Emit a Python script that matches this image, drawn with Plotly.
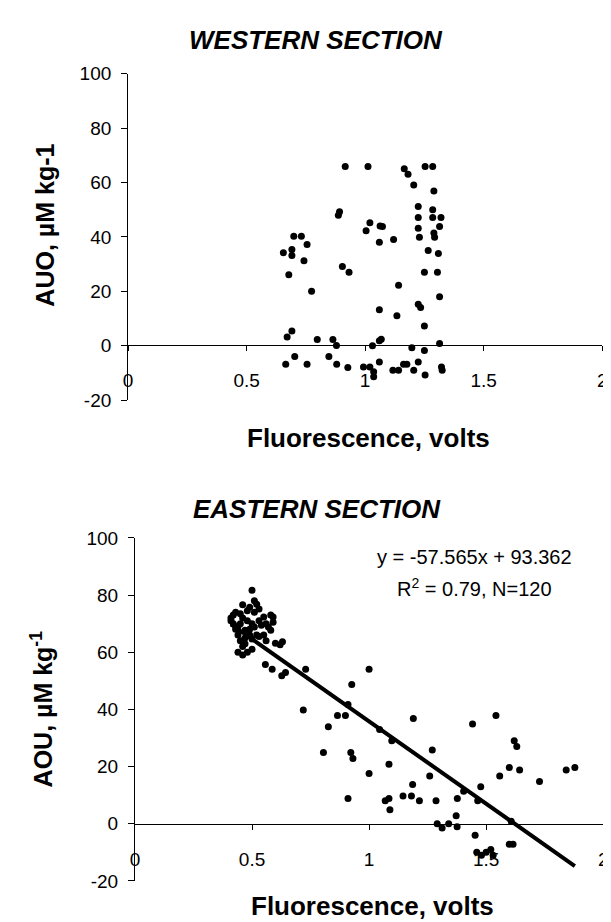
import plotly.graph_objects as go

# ---------------- data ----------------
west_x = [0.655, 0.691, 0.691, 0.699, 0.731, 0.755, 0.678, 0.742, 0.774, 0.671,
          0.691, 0.798, 0.665, 0.703, 0.755, 0.847, 0.864, 0.879, 0.880, 0.927,
          0.904, 0.932, 0.887, 0.892, 0.916, 1.012, 1.165, 1.181, 1.253, 1.285,
          1.205, 1.290, 1.224, 1.285, 1.004, 1.020, 1.063, 1.073, 1.060, 1.120,
          1.141, 1.060, 1.134, 1.031, 1.060, 1.068, 0.993, 1.020, 1.036, 1.036,
          1.060, 1.117, 1.141, 1.162, 1.176, 1.205, 1.224, 1.197, 1.250, 1.253,
          1.224, 1.224, 1.229, 1.224, 1.234, 1.250, 1.250, 1.266, 1.285, 1.290,
          1.293, 1.320, 1.314, 1.309, 1.305, 1.314, 1.314, 1.322, 1.325]
west_y = [34.2, 35.4, 33.2, 40.2, 40.2, 37.2, 26.1, 31.2, 20.0, 3.2,
          5.4, 2.3, -6.8, -4.0, -6.8, -4.0, 2.3, 0.1, -6.8, -8.0,
          29.1, 27.0, 48.0, 49.2, 65.9, 65.9, 65.1, 63.0, 65.9, 65.9,
          59.1, 56.9, 51.2, 50.0, 42.3, 45.2, 44.0, 43.8, 38.0, 39.0,
          22.2, 13.2, 11.0, 0.0, 1.8, 2.4, -7.8, -7.8, -9.6, -11.4,
          -6.0, -9.0, -9.0, -6.8, -6.8, -9.0, -6.0, -0.8, -1.8, -10.8,
          47.1, 43.2, 39.9, 15.2, 14.0, 7.2, 27.0, 35.0, 47.1, 41.4,
          39.9, 47.1, 43.8, 33.9, 27.0, 18.0, 0.8, -7.8, -9.0]

east_x = [0.41, 0.42, 0.41, 0.42, 0.43, 0.44, 0.44, 0.45, 0.46, 0.44,
          0.46, 0.48, 0.50, 0.47, 0.46, 0.49, 0.52, 0.53, 0.48, 0.51,
          0.55, 0.59, 0.59, 0.47, 0.51, 0.54, 0.57, 0.58, 0.49, 0.50,
          0.52, 0.53, 0.55, 0.45, 0.48, 0.50, 0.53, 0.46, 0.49, 0.56,
          0.60, 0.62, 0.63, 0.50, 0.43, 0.45, 0.51, 0.56, 0.58, 0.47,
          0.557, 0.586, 0.627, 0.643, 0.729, 1.000,
          0.719, 0.826, 0.805, 0.865, 0.899, 0.910, 0.926, 0.922, 0.931, 0.910,
          1.000, 1.045, 1.097, 1.085, 1.069, 1.085, 1.089, 1.145, 1.181, 1.186,
          1.189, 1.215, 1.259, 1.270, 1.286, 1.291, 1.312, 1.340, 1.372, 1.376,
          1.377, 1.404, 1.442, 1.453, 1.477, 1.464, 1.46, 1.48, 1.50, 1.52,
          1.53, 1.542, 1.558, 1.599, 1.607, 1.599, 1.615, 1.620, 1.631, 1.643,
          1.728, 1.842, 1.879]
east_y = [72.0, 73.0, 71.0, 70.0, 68.0, 69.0, 66.0, 64.0, 62.0, 60.0,
          59.0, 60.0, 61.0, 65.0, 76.6, 75.7, 76.8, 75.1, 74.5, 74.0,
          72.3, 72.3, 70.5, 67.7, 68.8, 69.4, 68.8, 67.7, 66.0, 64.6,
          66.0, 65.5, 66.0, 70.0, 71.0, 70.0, 71.0, 72.0, 68.0, 64.0,
          63.1, 62.6, 63.7, 81.7, 74.0, 73.5, 78.0, 70.0, 73.0, 63.0,
          55.7, 54.0, 51.8, 52.9, 54.0, 54.0,
          39.8, 33.9, 24.9, 37.9, 37.9, 41.7, 48.7, 24.9, 22.8, 8.8,
          17.6, 33.0, 29.0, 20.8, 8.0, 8.8, 4.9, 9.7, 9.7, 13.7,
          36.8, 8.0, 16.7, 25.8, 8.0, 0.0, -1.5, 0.0, 2.8, -1.1,
          8.8, 11.4, 34.9, -4.0, 12.9, 8.0, -10.0, -11.0, -10.0, -9.0,
          -11.0, 37.9, 16.7, 19.7, 0.9, -7.2, -7.2, 29.0, 27.0, 18.8,
          14.8, 18.8, 19.7]

fit_slope = -57.565
fit_intercept = 93.362

x_tick_vals = [0, 0.5, 1, 1.5, 2]
x_tick_text = ["0", "0.5", "1", "1.5", "2"]
y_tick_vals = [-20, 0, 20, 40, 60, 80, 100]
y_tick_text = ["-20", "0", "20", "40", "60", "80", "100"]

title_west = "WESTERN SECTION"
title_east = "EASTERN SECTION"
x_title = "Fluorescence, volts"
y_title_west = "AUO, µM kg-1"
y_title_east = "AOU, µM kg<sup>-1</sup>"
eq_text = "y = -57.565x + 93.362"
r2_text = "R<sup>2</sup> = 0.79, N=120"

# ---------------- figure ----------------
W, H = 611, 922
FONT = "Arial, Liberation Sans, sans-serif"

def px(X):
    return X / W

def py(Y):
    return 1 - Y / H

fig = go.Figure()
fig.add_trace(go.Scatter(x=west_x, y=west_y, mode="markers",
                         marker=dict(color="black", size=7),
                         xaxis="x", yaxis="y", showlegend=False))
fig.add_trace(go.Scatter(x=east_x, y=east_y, mode="markers",
                         marker=dict(color="black", size=7),
                         xaxis="x2", yaxis="y2", showlegend=False))
lx = [min(east_x), max(east_x)]
ly = [fit_slope * v + fit_intercept for v in lx]
fig.add_trace(go.Scatter(x=lx, y=ly, mode="lines",
                         line=dict(color="black", width=4),
                         xaxis="x2", yaxis="y2", showlegend=False))

tickfont = dict(family=FONT, size=19, color="black")

def xaxis(domain, pos):
    return dict(domain=domain, range=[0, 2], anchor="free", position=pos,
                showline=True, linecolor="black", linewidth=1,
                ticks="outside", ticklen=5, tickcolor="black", tickwidth=1,
                tickvals=x_tick_vals, ticktext=x_tick_text,
                showgrid=False, zeroline=False, tickfont=tickfont,
                ticklabelstandoff=13, fixedrange=True)

def yaxis(domain, anchor):
    return dict(domain=domain, range=[-20, 100], anchor=anchor,
                showline=True, linecolor="black", linewidth=1,
                ticks="outside", ticklen=6, tickcolor="black", tickwidth=1,
                tickvals=y_tick_vals, ticktext=y_tick_text,
                showgrid=False, zeroline=False, tickfont=tickfont,
                ticklabelstandoff=6, fixedrange=True)

fig.update_layout(
    width=W, height=H,
    margin=dict(l=0, r=0, t=0, b=0),
    paper_bgcolor="white", plot_bgcolor="white",
    xaxis=xaxis([px(117), px(599)], py(335)),
    yaxis=yaxis([py(391), py(57)], "x"),
    xaxis2=xaxis([px(124), px(600)], py(825)),
    yaxis2=yaxis([py(883), py(532)], "x2"),
)

def ann(text, X, Y, size, bold=False, italic=False, angle=0):
    t = text
    if italic:
        t = "<i>" + t + "</i>"
    if bold:
        t = "<b>" + t + "</b>"
    fig.add_annotation(text=t, x=px(X), y=py(Y), xref="paper", yref="paper",
                       xanchor="center", yanchor="middle", showarrow=False,
                       textangle=angle,
                       font=dict(family=FONT, size=size, color="black"))

ann(title_west, 308, 23, 26, bold=True, italic=True)
ann(title_east, 309, 502, 26, bold=True, italic=True)
ann(x_title, 361, 430, 26, bold=True)
ann(x_title, 365, 909, 26, bold=True)
ann(y_title_west, 33, 212, 25, bold=True, angle=-90)
ann(y_title_east, 29, 707, 25, bold=True, angle=-90)
ann(eq_text, 469, 552, 20)
ann(r2_text, 469, 583, 20)

fig.write_html("out.html")
